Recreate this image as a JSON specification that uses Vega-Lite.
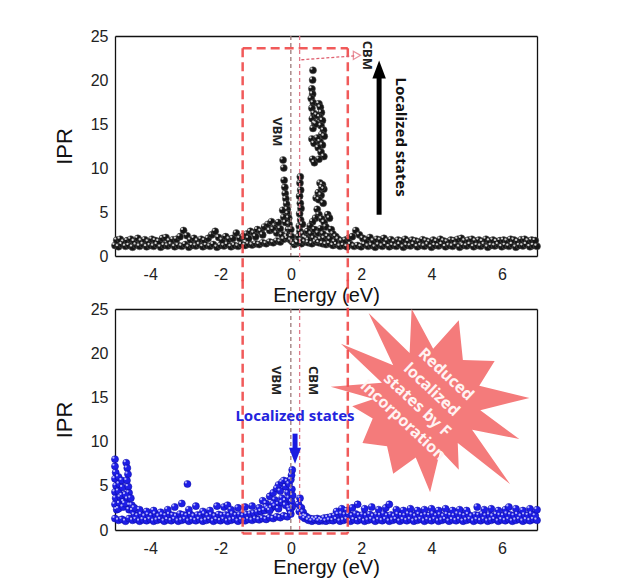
{
"$schema":"https://vega.github.io/schema/vega-lite/v6.json",
"padding":{"left":53,"top":28,"right":5,"bottom":5},
"background":"white",
"bounds":"flush",
"spacing":53,
"config":{"view":{"stroke":null},"font":"Liberation Sans",
"axis":{"grid":false,"domainColor":"#111","domainWidth":1.3,"tickColor":"#111","tickWidth":1.2,"labelColor":"#222","labelFontSize":16,"labelFont":"Liberation Sans","titleFont":"Liberation Sans","titleFontWeight":"normal","titleColor":"#111","labelOverlap":false,"labelFlush":false}},
"datasets":{
"top":[
{"e":-5.0,"p":1.2},{"e":-4.9,"p":1.05},{"e":-4.8,"p":1.3},{"e":-4.7,"p":1.1},{"e":-4.6,"p":1.2},{"e":-4.5,"p":1.0},{"e":-4.4,"p":1.25},{"e":-4.3,"p":1.1},{"e":-4.2,"p":1.3},{"e":-4.1,"p":1.05},
{"e":-4.0,"p":1.2},{"e":-3.9,"p":1.1},{"e":-3.8,"p":1.3},{"e":-3.7,"p":1.0},{"e":-3.6,"p":1.2},{"e":-3.5,"p":1.15},{"e":-3.4,"p":1.3},{"e":-3.3,"p":1.05},{"e":-3.2,"p":1.2},{"e":-3.1,"p":1.1},
{"e":-3.0,"p":1.3},{"e":-2.9,"p":1.0},{"e":-2.8,"p":1.2},{"e":-2.7,"p":1.15},{"e":-2.6,"p":1.3},{"e":-2.5,"p":1.05},{"e":-2.4,"p":1.2},{"e":-2.3,"p":1.1},{"e":-2.2,"p":1.3},{"e":-2.1,"p":1.0},
{"e":-2.0,"p":1.2},{"e":-1.9,"p":1.15},{"e":-1.8,"p":1.3},{"e":-1.7,"p":1.05},{"e":-1.6,"p":1.2},{"e":-1.5,"p":1.1},{"e":-1.4,"p":1.3},{"e":-1.3,"p":1.2},{"e":-1.2,"p":1.35},{"e":-1.1,"p":1.25},
{"e":-1.0,"p":1.4},{"e":-0.9,"p":1.3},{"e":-0.8,"p":1.5},{"e":-0.7,"p":1.4},{"e":-0.6,"p":1.6},{"e":-0.5,"p":1.5},{"e":-0.4,"p":1.7},{"e":-0.3,"p":1.6},{"e":-0.2,"p":1.9},{"e":-0.1,"p":2.0},
{"e":0.0,"p":1.8},{"e":0.1,"p":1.3},{"e":0.2,"p":1.5},{"e":0.3,"p":1.4},{"e":0.4,"p":1.6},{"e":0.5,"p":1.5},{"e":0.6,"p":1.4},{"e":0.7,"p":1.6},{"e":0.8,"p":1.5},{"e":0.9,"p":1.4},
{"e":1.0,"p":1.3},{"e":1.1,"p":1.4},{"e":1.2,"p":1.2},{"e":1.3,"p":1.3},{"e":1.4,"p":1.1},{"e":1.5,"p":1.2},{"e":1.6,"p":1.05},{"e":1.7,"p":1.3},{"e":1.8,"p":1.1},{"e":1.9,"p":1.2},
{"e":2.0,"p":1.05},{"e":2.1,"p":1.3},{"e":2.2,"p":1.1},{"e":2.3,"p":1.2},{"e":2.4,"p":1.0},{"e":2.5,"p":1.25},{"e":2.6,"p":1.1},{"e":2.7,"p":1.3},{"e":2.8,"p":1.05},{"e":2.9,"p":1.2},
{"e":3.0,"p":1.1},{"e":3.1,"p":1.3},{"e":3.2,"p":1.0},{"e":3.3,"p":1.2},{"e":3.4,"p":1.15},{"e":3.5,"p":1.3},{"e":3.6,"p":1.05},{"e":3.7,"p":1.2},{"e":3.8,"p":1.1},{"e":3.9,"p":1.3},
{"e":4.0,"p":1.0},{"e":4.1,"p":1.2},{"e":4.2,"p":1.15},{"e":4.3,"p":1.3},{"e":4.4,"p":1.05},{"e":4.5,"p":1.2},{"e":4.6,"p":1.1},{"e":4.7,"p":1.3},{"e":4.8,"p":1.0},{"e":4.9,"p":1.2},
{"e":5.0,"p":1.15},{"e":5.1,"p":1.3},{"e":5.2,"p":1.05},{"e":5.3,"p":1.2},{"e":5.4,"p":1.1},{"e":5.5,"p":1.3},{"e":5.6,"p":1.0},{"e":5.7,"p":1.2},{"e":5.8,"p":1.15},{"e":5.9,"p":1.3},
{"e":6.0,"p":1.05},{"e":6.1,"p":1.2},{"e":6.2,"p":1.1},{"e":6.3,"p":1.3},{"e":6.4,"p":1.0},{"e":6.5,"p":1.2},{"e":6.6,"p":1.15},{"e":6.7,"p":1.3},{"e":6.8,"p":1.05},{"e":6.9,"p":1.2},{"e":7.0,"p":1.1},
{"e":-4.95,"p":1.8},{"e":-4.85,"p":1.9},{"e":-4.75,"p":1.6},{"e":-4.65,"p":1.75},{"e":-4.55,"p":1.9},{"e":-4.45,"p":1.65},{"e":-4.35,"p":2.0},{"e":-4.25,"p":1.7},{"e":-4.15,"p":1.85},{"e":-4.05,"p":1.6},
{"e":-3.95,"p":1.9},{"e":-3.85,"p":1.75},{"e":-3.75,"p":1.65},{"e":-3.65,"p":2.0},{"e":-3.55,"p":2.1},{"e":-3.45,"p":1.7},{"e":-3.35,"p":1.85},{"e":-3.25,"p":1.9},{"e":-3.15,"p":2.2},{"e":-3.05,"p":2.9},
{"e":-2.95,"p":2.3},{"e":-2.85,"p":1.8},{"e":-2.75,"p":2.0},{"e":-2.65,"p":1.7},{"e":-2.55,"p":1.9},{"e":-2.45,"p":1.75},{"e":-2.35,"p":2.0},{"e":-2.25,"p":2.4},{"e":-2.15,"p":2.8},{"e":-2.05,"p":2.1},
{"e":-1.95,"p":1.8},{"e":-1.85,"p":2.2},{"e":-1.75,"p":1.9},{"e":-1.65,"p":2.0},{"e":-1.55,"p":2.6},{"e":-1.45,"p":2.0},{"e":-1.35,"p":2.2},{"e":-1.25,"p":2.5},{"e":-1.15,"p":2.8},{"e":-1.05,"p":2.6},
{"e":-0.95,"p":3.0},{"e":-0.85,"p":2.8},{"e":-0.75,"p":3.3},{"e":-0.65,"p":3.6},{"e":-0.55,"p":3.9},{"e":-0.45,"p":3.4},{"e":-0.35,"p":3.8},
{"e":-1.2,"p":2.0},{"e":-1.0,"p":2.2},{"e":-0.8,"p":2.4},{"e":-0.6,"p":2.9},{"e":-0.5,"p":3.0},{"e":-0.4,"p":2.6},{"e":-0.3,"p":3.1},{"e":-0.25,"p":2.4},
{"e":-0.22,"p":10.9},{"e":-0.2,"p":10.0},{"e":-0.19,"p":8.6},{"e":-0.17,"p":7.8},{"e":-0.16,"p":7.1},{"e":-0.14,"p":6.5},{"e":-0.12,"p":5.9},{"e":-0.1,"p":5.3},{"e":-0.08,"p":4.8},{"e":-0.06,"p":4.3},
{"e":-0.05,"p":3.6},{"e":-0.07,"p":3.0},{"e":-0.1,"p":2.5},{"e":-0.2,"p":4.4},{"e":-0.23,"p":5.2},{"e":-0.15,"p":3.8},{"e":-0.12,"p":2.2},{"e":0.0,"p":3.0},{"e":0.02,"p":2.2},{"e":0.05,"p":1.6},
{"e":0.27,"p":9.0},{"e":0.26,"p":8.3},{"e":0.28,"p":7.5},{"e":0.25,"p":6.8},{"e":0.27,"p":6.0},{"e":0.29,"p":5.4},{"e":0.25,"p":4.8},{"e":0.28,"p":4.1},{"e":0.24,"p":3.4},{"e":0.26,"p":2.8},
{"e":0.22,"p":2.2},{"e":0.3,"p":1.8},{"e":0.18,"p":1.6},{"e":0.33,"p":3.6},{"e":0.35,"p":2.5},{"e":0.4,"p":2.1},
{"e":0.63,"p":21.1},{"e":0.62,"p":20.0},{"e":0.6,"p":19.0},{"e":0.62,"p":18.4},{"e":0.58,"p":17.9},{"e":0.64,"p":17.4},{"e":0.6,"p":16.8},{"e":0.66,"p":16.2},{"e":0.61,"p":15.6},{"e":0.68,"p":15.1},
{"e":0.63,"p":14.5},{"e":0.6,"p":13.3},{"e":0.66,"p":12.8},{"e":0.62,"p":11.0},{"e":0.67,"p":10.6},
{"e":0.8,"p":17.3},{"e":0.84,"p":16.9},{"e":0.87,"p":16.3},{"e":0.82,"p":15.8},{"e":0.9,"p":15.4},{"e":0.86,"p":14.8},{"e":0.93,"p":14.3},{"e":0.88,"p":13.8},{"e":0.95,"p":13.6},{"e":0.83,"p":13.0},
{"e":0.9,"p":12.6},{"e":0.78,"p":12.3},{"e":0.86,"p":11.8},{"e":0.94,"p":11.3},{"e":0.8,"p":11.0},{"e":0.75,"p":13.4},{"e":0.72,"p":15.0},{"e":0.74,"p":16.0},
{"e":0.83,"p":8.3},{"e":0.9,"p":8.1},{"e":0.94,"p":7.6},{"e":0.78,"p":7.2},{"e":0.86,"p":6.9},{"e":0.72,"p":6.6},{"e":0.8,"p":6.4},{"e":0.92,"p":6.0},{"e":0.88,"p":7.8},
{"e":0.75,"p":5.3},{"e":0.8,"p":4.7},{"e":0.7,"p":4.3},{"e":0.88,"p":4.2},{"e":0.62,"p":3.9},{"e":0.95,"p":3.8},{"e":1.05,"p":4.7},{"e":1.1,"p":4.3},{"e":1.0,"p":3.3},{"e":0.55,"p":3.4},
{"e":0.48,"p":2.8},{"e":0.58,"p":2.5},{"e":0.68,"p":3.0},{"e":0.78,"p":2.6},{"e":0.85,"p":3.1},{"e":0.92,"p":2.5},{"e":1.15,"p":3.0},{"e":1.2,"p":2.5},{"e":1.28,"p":2.2},{"e":1.35,"p":1.9},
{"e":1.45,"p":1.7},{"e":0.45,"p":2.0},{"e":0.5,"p":1.8},{"e":0.65,"p":2.0},{"e":0.75,"p":1.8},{"e":0.85,"p":1.9},{"e":0.95,"p":2.0},{"e":1.05,"p":2.2},{"e":1.12,"p":1.9},{"e":1.25,"p":1.6},{"e":1.55,"p":1.8},{"e":1.65,"p":2.0},
{"e":1.75,"p":2.2},{"e":1.85,"p":2.9},{"e":1.95,"p":2.4},{"e":2.05,"p":2.0},{"e":2.15,"p":1.8},{"e":2.25,"p":2.1},{"e":2.35,"p":1.7},{"e":2.45,"p":1.9},{"e":2.55,"p":1.8},{"e":2.65,"p":2.0},
{"e":2.75,"p":1.7},{"e":2.85,"p":1.85},{"e":2.95,"p":1.6},{"e":3.05,"p":1.8},{"e":3.15,"p":1.7},{"e":3.25,"p":1.9},{"e":3.35,"p":1.65},{"e":3.45,"p":1.8},{"e":3.55,"p":1.7},{"e":3.65,"p":1.6},
{"e":3.75,"p":1.85},{"e":3.85,"p":1.7},{"e":3.95,"p":1.6},{"e":4.05,"p":1.8},{"e":4.15,"p":1.65},{"e":4.25,"p":1.9},{"e":4.35,"p":1.7},{"e":4.45,"p":1.6},{"e":4.55,"p":1.8},{"e":4.65,"p":1.75},
{"e":4.75,"p":1.9},{"e":4.85,"p":2.0},{"e":4.95,"p":1.7},{"e":5.05,"p":1.8},{"e":5.15,"p":1.9},{"e":5.25,"p":1.7},{"e":5.35,"p":1.8},{"e":5.45,"p":1.65},{"e":5.55,"p":1.9},{"e":5.65,"p":1.7},
{"e":5.75,"p":1.8},{"e":5.85,"p":1.65},{"e":5.95,"p":1.75},{"e":6.05,"p":1.8},{"e":6.15,"p":1.7},{"e":6.25,"p":1.9},{"e":6.35,"p":1.8},{"e":6.45,"p":1.65},{"e":6.55,"p":1.85},{"e":6.65,"p":1.9},{"e":6.75,"p":1.7},{"e":6.85,"p":1.8},{"e":6.95,"p":1.75}
],
"bot":[
{"e":-5.0,"p":1.3},{"e":-4.9,"p":1.1},{"e":-4.8,"p":1.2},{"e":-4.7,"p":1.0},{"e":-4.6,"p":1.3},{"e":-4.5,"p":1.1},{"e":-4.4,"p":1.2},{"e":-4.3,"p":1.0},{"e":-4.2,"p":1.15},{"e":-4.1,"p":1.05},
{"e":-4.0,"p":1.2},{"e":-3.9,"p":1.0},{"e":-3.8,"p":1.1},{"e":-3.7,"p":1.2},{"e":-3.6,"p":1.0},{"e":-3.5,"p":1.15},{"e":-3.4,"p":1.05},{"e":-3.3,"p":1.2},{"e":-3.2,"p":1.0},{"e":-3.1,"p":1.1},
{"e":-3.0,"p":1.2},{"e":-2.9,"p":1.0},{"e":-2.8,"p":1.15},{"e":-2.7,"p":1.05},{"e":-2.6,"p":1.2},{"e":-2.5,"p":1.0},{"e":-2.4,"p":1.1},{"e":-2.3,"p":1.2},{"e":-2.2,"p":1.0},{"e":-2.1,"p":1.15},
{"e":-2.0,"p":1.05},{"e":-1.9,"p":1.2},{"e":-1.8,"p":1.0},{"e":-1.7,"p":1.1},{"e":-1.6,"p":1.2},{"e":-1.5,"p":1.0},{"e":-1.4,"p":1.15},{"e":-1.3,"p":1.05},{"e":-1.2,"p":1.2},{"e":-1.1,"p":1.1},
{"e":-1.0,"p":1.25},{"e":-0.9,"p":1.15},{"e":-0.8,"p":1.3},{"e":-0.7,"p":1.2},{"e":-0.6,"p":1.4},{"e":-0.5,"p":1.3},{"e":-0.4,"p":1.5},{"e":-0.3,"p":1.4},{"e":-0.2,"p":1.6},{"e":-0.1,"p":1.5},{"e":0.0,"p":1.8},
{"e":0.4,"p":1.3},{"e":0.5,"p":1.1},{"e":0.6,"p":1.0},{"e":0.7,"p":1.1},{"e":0.8,"p":1.0},{"e":0.9,"p":1.05},{"e":1.0,"p":1.0},{"e":1.1,"p":1.1},{"e":1.2,"p":1.05},{"e":1.3,"p":1.2},
{"e":1.4,"p":1.0},{"e":1.5,"p":1.1},{"e":1.6,"p":1.2},{"e":1.7,"p":1.0},{"e":1.8,"p":1.15},{"e":1.9,"p":1.05},{"e":2.0,"p":1.2},{"e":2.1,"p":1.0},{"e":2.2,"p":1.1},{"e":2.3,"p":1.2},
{"e":2.4,"p":1.0},{"e":2.5,"p":1.15},{"e":2.6,"p":1.05},{"e":2.7,"p":1.2},{"e":2.8,"p":1.0},{"e":2.9,"p":1.1},{"e":3.0,"p":1.2},{"e":3.1,"p":1.0},{"e":3.2,"p":1.15},{"e":3.3,"p":1.05},
{"e":3.4,"p":1.2},{"e":3.5,"p":1.0},{"e":3.6,"p":1.1},{"e":3.7,"p":1.2},{"e":3.8,"p":1.0},{"e":3.9,"p":1.15},{"e":4.0,"p":1.05},{"e":4.1,"p":1.2},{"e":4.2,"p":1.0},{"e":4.3,"p":1.1},
{"e":4.4,"p":1.2},{"e":4.5,"p":1.0},{"e":4.6,"p":1.15},{"e":4.7,"p":1.05},{"e":4.8,"p":1.2},{"e":4.9,"p":1.0},{"e":5.0,"p":1.1},{"e":5.1,"p":1.2},{"e":5.2,"p":1.0},{"e":5.3,"p":1.15},
{"e":5.4,"p":1.05},{"e":5.5,"p":1.2},{"e":5.6,"p":1.0},{"e":5.7,"p":1.1},{"e":5.8,"p":1.2},{"e":5.9,"p":1.0},{"e":6.0,"p":1.15},{"e":6.1,"p":1.05},{"e":6.2,"p":1.2},{"e":6.3,"p":1.0},
{"e":6.4,"p":1.1},{"e":6.5,"p":1.2},{"e":6.6,"p":1.0},{"e":6.7,"p":1.15},{"e":6.8,"p":1.05},{"e":6.9,"p":1.2},{"e":7.0,"p":1.1},
{"e":-4.45,"p":1.7},{"e":-4.35,"p":1.6},{"e":-4.25,"p":1.75},{"e":-4.15,"p":1.55},{"e":-4.05,"p":1.7},{"e":-3.95,"p":1.6},{"e":-3.85,"p":1.8},{"e":-3.75,"p":1.55},{"e":-3.65,"p":1.7},{"e":-3.55,"p":1.6},
{"e":-3.45,"p":1.75},{"e":-3.35,"p":1.65},{"e":-3.25,"p":1.55},{"e":-3.15,"p":1.8},{"e":-3.05,"p":1.7},{"e":-2.95,"p":1.6},{"e":-2.85,"p":1.75},{"e":-2.75,"p":1.55},{"e":-2.65,"p":1.7},{"e":-2.55,"p":1.65},
{"e":-2.45,"p":1.8},{"e":-2.35,"p":1.6},{"e":-2.25,"p":1.7},{"e":-2.15,"p":1.55},{"e":-2.05,"p":1.75},{"e":-1.95,"p":1.65},{"e":-1.85,"p":1.7},{"e":-1.75,"p":1.6},{"e":-1.65,"p":1.8},{"e":-1.55,"p":1.65},
{"e":-1.45,"p":1.7},{"e":-1.35,"p":1.6},{"e":-1.25,"p":1.75},{"e":-1.15,"p":1.8},{"e":-1.05,"p":1.9},{"e":-0.95,"p":2.0},{"e":-0.85,"p":2.1},{"e":-0.75,"p":2.2},{"e":-0.65,"p":2.4},{"e":-0.55,"p":2.5},
{"e":-0.45,"p":2.7},{"e":-0.35,"p":2.9},{"e":-0.25,"p":3.1},{"e":-0.15,"p":3.3},{"e":-0.05,"p":3.6},
{"e":0.45,"p":1.5},{"e":0.55,"p":1.3},{"e":0.65,"p":1.25},{"e":0.75,"p":1.3},{"e":0.85,"p":1.2},{"e":0.95,"p":1.35},{"e":1.05,"p":1.4},{"e":1.15,"p":1.5},{"e":1.25,"p":1.6},{"e":1.35,"p":1.75},
{"e":1.45,"p":1.8},{"e":1.55,"p":1.7},{"e":1.65,"p":1.75},{"e":1.75,"p":1.6},{"e":1.85,"p":1.8},{"e":1.95,"p":1.65},{"e":2.05,"p":1.7},{"e":2.15,"p":1.6},{"e":2.25,"p":1.75},{"e":2.35,"p":1.55},
{"e":2.45,"p":1.7},{"e":2.55,"p":1.65},{"e":2.65,"p":1.8},{"e":2.75,"p":1.6},{"e":2.85,"p":1.7},{"e":2.95,"p":1.55},{"e":3.05,"p":1.75},{"e":3.15,"p":1.65},{"e":3.25,"p":1.6},{"e":3.35,"p":1.8},
{"e":3.45,"p":1.7},{"e":3.55,"p":1.55},{"e":3.65,"p":1.75},{"e":3.75,"p":1.6},{"e":3.85,"p":1.7},{"e":3.95,"p":1.65},{"e":4.05,"p":1.8},{"e":4.15,"p":1.6},{"e":4.25,"p":1.7},{"e":4.35,"p":1.55},
{"e":4.45,"p":1.75},{"e":4.55,"p":1.65},{"e":4.65,"p":1.6},{"e":4.75,"p":1.8},{"e":4.85,"p":1.7},{"e":4.95,"p":1.6},{"e":5.05,"p":1.75},{"e":5.15,"p":1.55},{"e":5.25,"p":1.7},{"e":5.35,"p":1.65},
{"e":5.45,"p":1.8},{"e":5.55,"p":1.6},{"e":5.65,"p":1.7},{"e":5.75,"p":1.55},{"e":5.85,"p":1.75},{"e":5.95,"p":1.65},{"e":6.05,"p":1.6},{"e":6.15,"p":1.8},{"e":6.25,"p":1.7},{"e":6.35,"p":1.6},
{"e":6.45,"p":1.75},{"e":6.55,"p":1.55},{"e":6.65,"p":1.7},{"e":6.75,"p":1.65},{"e":6.85,"p":1.8},{"e":6.95,"p":1.6},
{"e":-4.3,"p":2.3},{"e":-4.1,"p":2.1},{"e":-3.9,"p":2.2},{"e":-3.7,"p":2.0},{"e":-3.5,"p":2.3},{"e":-3.3,"p":2.6},{"e":-3.1,"p":3.0},{"e":-2.9,"p":2.3},{"e":-2.7,"p":2.7},{"e":-2.5,"p":2.1},
{"e":-2.3,"p":2.2},{"e":-2.1,"p":2.7},{"e":-1.9,"p":2.6},{"e":-1.8,"p":2.8},{"e":-1.7,"p":2.3},{"e":-1.5,"p":2.5},{"e":-1.3,"p":2.6},{"e":-1.1,"p":2.7},{"e":-0.9,"p":2.5},{"e":-0.7,"p":3.0},
{"e":-0.6,"p":3.8},{"e":-0.5,"p":4.2},{"e":-0.45,"p":3.4},{"e":-0.4,"p":4.7},{"e":-0.35,"p":5.1},{"e":-0.3,"p":4.4},{"e":-0.25,"p":5.4},{"e":-0.2,"p":5.6},{"e":-0.15,"p":4.9},{"e":-0.1,"p":5.5},
{"e":-0.08,"p":4.2},{"e":-0.05,"p":5.2},{"e":0.0,"p":5.7},{"e":0.02,"p":6.2},{"e":0.04,"p":6.8},{"e":0.03,"p":4.6},{"e":0.05,"p":3.9},{"e":0.02,"p":3.2},{"e":0.04,"p":2.6},{"e":-0.02,"p":2.2},
{"e":-0.25,"p":3.6},{"e":-0.5,"p":3.0},{"e":-0.7,"p":2.6},{"e":-0.8,"p":3.3},{"e":-0.6,"p":2.2},{"e":-0.35,"p":2.4},{"e":-0.15,"p":2.8},{"e":-0.05,"p":2.5},
{"e":0.26,"p":3.6},{"e":0.22,"p":2.9},{"e":0.3,"p":2.5},{"e":0.24,"p":2.1},{"e":0.35,"p":2.0},{"e":0.4,"p":1.6},{"e":0.32,"p":1.5},
{"e":1.3,"p":2.1},{"e":1.45,"p":2.4},{"e":1.6,"p":2.2},{"e":1.75,"p":2.5},{"e":1.9,"p":2.9},{"e":2.1,"p":2.4},{"e":2.3,"p":2.6},{"e":2.5,"p":2.3},{"e":2.7,"p":2.5},{"e":2.8,"p":2.9},
{"e":3.0,"p":2.3},{"e":3.2,"p":2.2},{"e":3.4,"p":2.4},{"e":3.6,"p":2.2},{"e":3.8,"p":2.3},{"e":4.0,"p":2.4},{"e":4.2,"p":2.2},{"e":4.4,"p":2.4},{"e":4.6,"p":2.2},{"e":4.8,"p":2.3},
{"e":5.0,"p":2.2},{"e":5.3,"p":2.6},{"e":5.5,"p":2.3},{"e":5.7,"p":2.4},{"e":5.9,"p":2.2},{"e":6.1,"p":2.3},{"e":6.2,"p":2.6},{"e":6.4,"p":2.4},{"e":6.6,"p":2.2},{"e":6.8,"p":2.4},{"e":7.0,"p":2.3},
{"e":-5.0,"p":8.0},{"e":-5.0,"p":7.2},{"e":-4.98,"p":6.5},{"e":-5.0,"p":5.8},{"e":-4.97,"p":5.0},{"e":-5.0,"p":4.3},{"e":-4.98,"p":3.6},{"e":-5.0,"p":2.9},{"e":-4.95,"p":2.3},{"e":-4.9,"p":6.0},
{"e":-4.88,"p":5.2},{"e":-4.9,"p":4.4},{"e":-4.85,"p":3.7},{"e":-4.87,"p":3.0},{"e":-4.9,"p":2.4},{"e":-4.8,"p":5.6},{"e":-4.78,"p":4.8},{"e":-4.8,"p":3.9},{"e":-4.75,"p":3.2},{"e":-4.77,"p":2.6},
{"e":-4.68,"p":7.6},{"e":-4.65,"p":7.0},{"e":-4.63,"p":6.3},{"e":-4.66,"p":5.6},{"e":-4.62,"p":4.9},{"e":-4.6,"p":4.2},{"e":-4.64,"p":3.5},{"e":-4.58,"p":2.8},{"e":-4.6,"p":2.3},{"e":-4.55,"p":3.6},
{"e":-4.52,"p":2.8},{"e":-4.5,"p":2.2},{"e":-4.45,"p":2.5},{"e":-4.7,"p":4.0},{"e":-4.72,"p":3.0},{"e":-2.94,"p":5.2}
]},
"vconcat":[
{"width":422,"height":220,
"resolve":{"axis":{"x":"independent","y":"independent"}},
"layer":[
{"data":{"name":"top"},"mark":{"type":"point","shape":"circle","filled":true,"size":50,"color":"#161616","stroke":"#555555","strokeWidth":0.5,"opacity":1},
"encoding":{
"x":{"field":"e","type":"quantitative","scale":{"domain":[-5,7],"nice":false,"zero":false},
"axis":{"orient":"bottom","values":[-5,-4,-3,-2,-1,0,1,2,3,4,5,6,7],"labelExpr":"datum.value % 2 === 0 ? (datum.value < 0 ? '-' + abs(datum.value) : '' + datum.value) : ''","tickSize":0,"labelPadding":10,"title":"Energy (eV)","titleFontSize":20,"titleY":39,"titleBaseline":"middle","encode":{"ticks":{"update":{"y2":{"signal":"datum.value % 2 === 0 ? -6 : -3"}}}}}},
"y":{"field":"p","type":"quantitative","scale":{"domain":[0,25],"nice":false,"zero":false},
"axis":{"orient":"left","values":[0,2.5,5,7.5,10,12.5,15,17.5,20,22.5,25],"labelExpr":"datum.value % 5 === 0 ? datum.label : ''","tickSize":0,"labelPadding":7,"title":"IPR","titleFontSize":22,"titleX":-51,"titleY":110,"titleBaseline":"middle","titleAngle":-90,"encode":{"ticks":{"update":{"x2":{"signal":"datum.value % 5 === 0 ? 6 : 3"}}}}}}}},
{"data":{"name":"top"},"mark":{"type":"point","shape":"circle","filled":true,"size":5,"color":"#ffffff","opacity":0.8,"xOffset":-1.6,"yOffset":-1.6},
"encoding":{
"x":{"field":"e","type":"quantitative","scale":{"domain":[-5,7],"nice":false,"zero":false},
"axis":{"orient":"top","values":[-5,-4,-3,-2,-1,0,1,2,3,4,5,6,7],"labels":false,"title":null,"tickSize":0,"encode":{"ticks":{"update":{"y2":{"signal":"datum.value % 2 === 0 ? 6 : 3"}}}}}},
"y":{"field":"p","type":"quantitative","scale":{"domain":[0,25],"nice":false,"zero":false},
"axis":{"orient":"right","values":[0,2.5,5,7.5,10,12.5,15,17.5,20,22.5,25],"labels":false,"title":null,"tickSize":0,"encode":{"ticks":{"update":{"x2":{"signal":"datum.value % 5 === 0 ? -6 : -3"}}}}}}}},
{"data":{"values":[{"e":0,"p":25,"e2":0,"p2":0,"k":"VBM"},{"e":0.25,"p":25,"e2":0.25,"p2":-0.6,"k":"CBM"}]},
"mark":{"type":"rule","strokeDash":[4,3],"strokeWidth":1.3},
"encoding":{"x":{"field":"e","type":"quantitative","axis":null,"scale":{"domain":[-5,7],"nice":false,"zero":false}},"y":{"field":"p","type":"quantitative","axis":null,"scale":{"domain":[0,25],"nice":false,"zero":false}},"x2":{"field":"e2"},"y2":{"field":"p2"},
"color":{"field":"k","type":"nominal","legend":null,"scale":{"domain":["VBM","CBM"],"range":["#9b7b7b","#e07a8a"]}}}},
{"data":{"values":[{"e":-1.37,"p":23.6,"e2":1.62,"p2":23.6},{"e":-1.37,"p":23.6,"e2":-1.37,"p2":-3.3},{"e":1.62,"p":23.6,"e2":1.62,"p2":-3.3}]},
"mark":{"type":"rule","color":"#f04848","strokeDash":[9,5],"strokeWidth":2.5,"opacity":0.9},
"encoding":{"x":{"field":"e","type":"quantitative","axis":null,"scale":{"domain":[-5,7],"nice":false,"zero":false}},"y":{"field":"p","type":"quantitative","axis":null,"scale":{"domain":[0,25],"nice":false,"zero":false}},"x2":{"field":"e2"},"y2":{"field":"p2"}}},
{"data":{"values":[{"e":0.3,"p":22.3,"e2":1.82,"p2":22.75}]},
"mark":{"type":"rule","color":"#e06070","strokeDash":[3,2],"strokeWidth":1.3},
"encoding":{"x":{"field":"e","type":"quantitative","axis":null,"scale":{"domain":[-5,7],"nice":false,"zero":false}},"y":{"field":"p","type":"quantitative","axis":null,"scale":{"domain":[0,25],"nice":false,"zero":false}},"x2":{"field":"e2"},"y2":{"field":"p2"}}},
{"data":{"values":[{"e":1.88,"p":22.8}]},
"mark":{"type":"point","shape":"triangle-right","filled":false,"size":70,"color":"#e06070","strokeWidth":1.2},
"encoding":{"x":{"field":"e","type":"quantitative","axis":null,"scale":{"domain":[-5,7],"nice":false,"zero":false}},"y":{"field":"p","type":"quantitative","axis":null,"scale":{"domain":[0,25],"nice":false,"zero":false}}}},
{"data":{"values":[{"e":2.51,"p":4.7,"e2":2.51,"p2":20.5}]},
"mark":{"type":"rule","color":"#000000","strokeWidth":5},
"encoding":{"x":{"field":"e","type":"quantitative","axis":null,"scale":{"domain":[-5,7],"nice":false,"zero":false}},"y":{"field":"p","type":"quantitative","axis":null,"scale":{"domain":[0,25],"nice":false,"zero":false}},"x2":{"field":"e2"},"y2":{"field":"p2"}}},
{"data":{"values":[{"e":2.51,"p":21.2}]},
"mark":{"type":"point","shape":"M0,-1L0.75,1L-0.75,1Z","filled":true,"size":324,"color":"#000000","opacity":1},
"encoding":{"x":{"field":"e","type":"quantitative","axis":null,"scale":{"domain":[-5,7],"nice":false,"zero":false}},"y":{"field":"p","type":"quantitative","axis":null,"scale":{"domain":[0,25],"nice":false,"zero":false}}}},
{"data":{"values":[{"e":-0.39,"p":14.1,"t":"VBM"},{"e":2.18,"p":22.8,"t":"CBM"}]},
"mark":{"type":"text","angle":90,"font":"Noto Sans","fontSize":13,"fontWeight":"bold","color":"#222222","align":"center","baseline":"middle"},
"encoding":{"x":{"field":"e","type":"quantitative","axis":null,"scale":{"domain":[-5,7],"nice":false,"zero":false}},"y":{"field":"p","type":"quantitative","axis":null,"scale":{"domain":[0,25],"nice":false,"zero":false}},"text":{"field":"t"}}},
{"data":{"values":[{"e":3.12,"p":13.5,"t":"Localized states"}]},
"mark":{"type":"text","angle":90,"font":"Noto Sans","fontSize":15,"fontWeight":"bold","color":"#111111","align":"center","baseline":"middle"},
"encoding":{"x":{"field":"e","type":"quantitative","axis":null,"scale":{"domain":[-5,7],"nice":false,"zero":false}},"y":{"field":"p","type":"quantitative","axis":null,"scale":{"domain":[0,25],"nice":false,"zero":false}},"text":{"field":"t"}}}
]},
{"width":422,"height":221,
"resolve":{"axis":{"x":"independent","y":"independent"}},
"layer":[
{"data":{"values":[{"e":3.96,"p":14.7}]},
"mark":{"type":"point","shape":"M0.97,-0.02L0.49,0.1L0.87,0.38L0.41,0.29L0.78,0.82L0.27,0.42L0.28,0.68L0.1,0.49L0,0.9L-0.14,0.56L-0.36,0.72L-0.42,0.45L-0.66,0.42L-0.56,0.18L-0.76,0.06L-0.55,-0.01L-0.97,-0.13L-0.47,-0.17L-0.87,-0.55L-0.36,-0.34L-0.6,-0.85L-0.2,-0.46L-0.18,-0.89L0.03,-0.5L0.28,-0.78L0.32,-0.39L0.63,-0.38L0.48,-0.14Z","filled":true,"size":42000,"color":"#f47b7b","opacity":1},
"encoding":{"x":{"field":"e","type":"quantitative","axis":null,"scale":{"domain":[-5,7],"nice":false,"zero":false}},"y":{"field":"p","type":"quantitative","axis":null,"scale":{"domain":[0,25],"nice":false,"zero":false}}}},
{"data":{"name":"bot"},"mark":{"type":"point","shape":"circle","filled":true,"size":50,"color":"#1e1ee6","stroke":"#0a0aa0","strokeWidth":0.5,"opacity":1},
"encoding":{
"x":{"field":"e","type":"quantitative","scale":{"domain":[-5,7],"nice":false,"zero":false},
"axis":{"orient":"bottom","values":[-5,-4,-3,-2,-1,0,1,2,3,4,5,6,7],"labelExpr":"datum.value % 2 === 0 ? (datum.value < 0 ? '-' + abs(datum.value) : '' + datum.value) : ''","tickSize":0,"labelPadding":10,"title":"Energy (eV)","titleFontSize":20,"titleY":37,"titleBaseline":"middle","encode":{"ticks":{"update":{"y2":{"signal":"datum.value % 2 === 0 ? -6 : -3"}}}}}},
"y":{"field":"p","type":"quantitative","scale":{"domain":[0,25],"nice":false,"zero":false},
"axis":{"orient":"left","values":[0,2.5,5,7.5,10,12.5,15,17.5,20,22.5,25],"labelExpr":"datum.value % 5 === 0 ? datum.label : ''","tickSize":0,"labelPadding":7,"title":"IPR","titleFontSize":22,"titleX":-51,"titleY":110.5,"titleBaseline":"middle","titleAngle":-90,"encode":{"ticks":{"update":{"x2":{"signal":"datum.value % 5 === 0 ? 6 : 3"}}}}}}}},
{"data":{"name":"bot"},"mark":{"type":"point","shape":"circle","filled":true,"size":5,"color":"#d0d0ff","opacity":0.85,"xOffset":-1.6,"yOffset":-1.6},
"encoding":{
"x":{"field":"e","type":"quantitative","scale":{"domain":[-5,7],"nice":false,"zero":false},
"axis":{"orient":"top","values":[-5,-4,-3,-2,-1,0,1,2,3,4,5,6,7],"labels":false,"title":null,"tickSize":0,"encode":{"ticks":{"update":{"y2":{"signal":"datum.value % 2 === 0 ? 6 : 3"}}}}}},
"y":{"field":"p","type":"quantitative","scale":{"domain":[0,25],"nice":false,"zero":false},
"axis":{"orient":"right","values":[0,2.5,5,7.5,10,12.5,15,17.5,20,22.5,25],"labels":false,"title":null,"tickSize":0,"encode":{"ticks":{"update":{"x2":{"signal":"datum.value % 5 === 0 ? -6 : -3"}}}}}}}},
{"data":{"values":[{"e":0,"p":25,"e2":0,"p2":0,"k":"VBM"},{"e":0.25,"p":25,"e2":0.25,"p2":0,"k":"CBM"}]},
"mark":{"type":"rule","strokeDash":[4,3],"strokeWidth":1.3},
"encoding":{"x":{"field":"e","type":"quantitative","axis":null,"scale":{"domain":[-5,7],"nice":false,"zero":false}},"y":{"field":"p","type":"quantitative","axis":null,"scale":{"domain":[0,25],"nice":false,"zero":false}},"x2":{"field":"e2"},"y2":{"field":"p2"},
"color":{"field":"k","type":"nominal","legend":null,"scale":{"domain":["VBM","CBM"],"range":["#9c8478","#b8967a"]}}}},
{"data":{"values":[{"e":-1.37,"p":28.3,"e2":-1.37,"p2":-0.4},{"e":1.62,"p":28.3,"e2":1.62,"p2":-0.4},{"e":-1.37,"p":-0.4,"e2":1.62,"p2":-0.4}]},
"mark":{"type":"rule","color":"#f04848","strokeDash":[9,5],"strokeWidth":2.5,"opacity":0.9},
"encoding":{"x":{"field":"e","type":"quantitative","axis":null,"scale":{"domain":[-5,7],"nice":false,"zero":false}},"y":{"field":"p","type":"quantitative","axis":null,"scale":{"domain":[0,25],"nice":false,"zero":false}},"x2":{"field":"e2"},"y2":{"field":"p2"}}},
{"data":{"values":[{"e":0.12,"p":10.9,"e2":0.12,"p2":8.6}]},
"mark":{"type":"rule","color":"#1a1ae0","strokeWidth":5},
"encoding":{"x":{"field":"e","type":"quantitative","axis":null,"scale":{"domain":[-5,7],"nice":false,"zero":false}},"y":{"field":"p","type":"quantitative","axis":null,"scale":{"domain":[0,25],"nice":false,"zero":false}},"x2":{"field":"e2"},"y2":{"field":"p2"}}},
{"data":{"values":[{"e":0.12,"p":8.4}]},
"mark":{"type":"point","shape":"M0,1L0.75,-1L-0.75,-1Z","filled":true,"size":256,"color":"#1a1ae0","opacity":1},
"encoding":{"x":{"field":"e","type":"quantitative","axis":null,"scale":{"domain":[-5,7],"nice":false,"zero":false}},"y":{"field":"p","type":"quantitative","axis":null,"scale":{"domain":[0,25],"nice":false,"zero":false}}}},
{"data":{"values":[{"e":-0.43,"p":16.9,"t":"VBM"},{"e":0.64,"p":16.9,"t":"CBM"}]},
"mark":{"type":"text","angle":90,"font":"Noto Sans","fontSize":13,"fontWeight":"bold","color":"#222222","align":"center","baseline":"middle"},
"encoding":{"x":{"field":"e","type":"quantitative","axis":null,"scale":{"domain":[-5,7],"nice":false,"zero":false}},"y":{"field":"p","type":"quantitative","axis":null,"scale":{"domain":[0,25],"nice":false,"zero":false}},"text":{"field":"t"}}},
{"data":{"values":[{"e":0.12,"p":12.9,"t":"Localized states"}]},
"mark":{"type":"text","font":"Noto Sans","fontSize":15,"fontWeight":"bold","color":"#2424dd","align":"center","baseline":"middle"},
"encoding":{"x":{"field":"e","type":"quantitative","axis":null,"scale":{"domain":[-5,7],"nice":false,"zero":false}},"y":{"field":"p","type":"quantitative","axis":null,"scale":{"domain":[0,25],"nice":false,"zero":false}},"text":{"field":"t"}}},
{"data":{"values":[{"e":4.41,"p":17.6,"t":"Reduced\nlocalized\nstates  by F\nincorporation"}]},
"mark":{"type":"text","angle":43,"font":"Noto Sans","fontSize":16,"fontWeight":"bold","color":"#fff2f2","align":"center","baseline":"middle","lineBreak":"\n","lineHeight":21},
"encoding":{"x":{"field":"e","type":"quantitative","axis":null,"scale":{"domain":[-5,7],"nice":false,"zero":false}},"y":{"field":"p","type":"quantitative","axis":null,"scale":{"domain":[0,25],"nice":false,"zero":false}},"text":{"field":"t"}}}
]}
]
}
